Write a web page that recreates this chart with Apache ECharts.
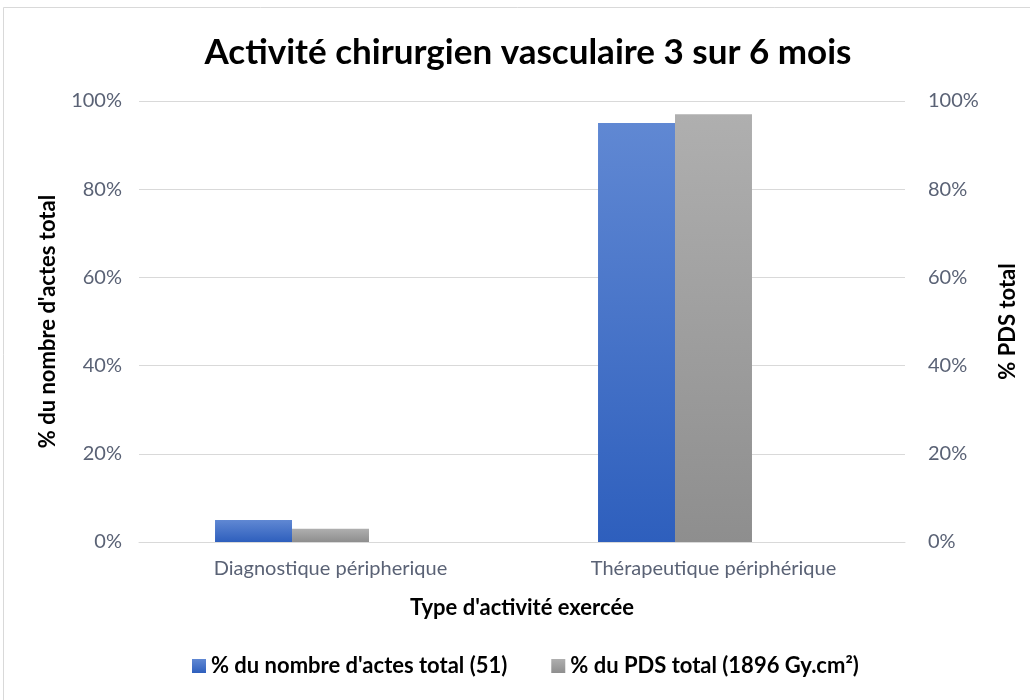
<!DOCTYPE html>
<html>
<head>
<meta charset="utf-8">
<script src="https://cdn.jsdelivr.net/npm/echarts@6/dist/echarts.min.js"></script>
<style>
  html, body { margin: 0; padding: 0; background: #fff; }
  #chart { width: 1030px; height: 700px; }
</style>
</head>
<body>
<div id="chart"></div>
<script>
// categories and values (percent)
var categories = ['Diagnostique péripherique', 'Thérapeutique périphérique'];
var actesValues = [5, 95];
var pdsValues = [3, 97];
var emptySlot = [null, null]; // Excel leaves an empty third slot in each group
var yTicks = [0, 20, 40, 60, 80, 100];

var font = 'Lato, "Open Sans", sans-serif';
var labelColor = '#5a6275';

var chart = echarts.init(document.getElementById('chart'));
chart.setOption({
  backgroundColor: '#fff',
  animation: false,
  title: {
    text: 'Activité chirurgien vasculaire 3 sur 6 mois',
    left: 523,
    textAlign: 'center',
    top: 30,
    textStyle: { fontFamily: font, fontSize: 35, fontWeight: 'bold', color: '#000' }
  },
  graphic: [{
    type: 'rect',
    shape: { x: 3.5, y: 7.5, width: 1040, height: 700 },
    style: { fill: 'none', stroke: '#d9d9d9', lineWidth: 1 },
    silent: true
  }],
  legend: {
    bottom: 18,
    left: 187,
    icon: 'rect',
    itemWidth: 14,
    itemHeight: 14,
    itemGap: 44,
    data: ["% du nombre d'actes total (51)", '% du PDS total (1896 Gy.cm²)'],
    textStyle: { fontFamily: font, fontSize: 22, fontWeight: 'bold', color: '#000' }
  },
  grid: { left: 139, right: 125, top: 101, bottom: 158 },
  xAxis: {
    type: 'category',
    data: categories,
    name: "Type d'activité exercée",
    nameLocation: 'middle',
    nameGap: 55,
    nameTextStyle: { fontFamily: font, fontSize: 22, fontWeight: 'bold', color: '#000' },
    axisTick: { show: false },
    axisLine: { lineStyle: { color: '#d9d9d9' } },
    axisLabel: { fontFamily: font, fontSize: 20, color: labelColor, margin: 17 }
  },
  yAxis: [{
    type: 'value',
    min: yTicks[0],
    max: yTicks[yTicks.length - 1],
    interval: 20,
    name: "% du nombre d'actes total",
    nameLocation: 'middle',
    nameGap: 80,
    nameTextStyle: { fontFamily: font, fontSize: 22, fontWeight: 'bold', color: '#000' },
    axisLabel: { formatter: '{value}%', fontFamily: font, fontSize: 20, color: labelColor, margin: 17 },
    splitLine: { lineStyle: { color: '#d9d9d9' } },
    axisLine: { show: false },
    axisTick: { show: false }
  }, {
    type: 'value',
    min: yTicks[0],
    max: yTicks[yTicks.length - 1],
    interval: 20,
    name: '% PDS total',
    nameLocation: 'middle',
    nameGap: 92,
    nameRotate: 90,
    nameTextStyle: { fontFamily: font, fontSize: 22, fontWeight: 'bold', color: '#000' },
    axisLabel: { formatter: '{value}%', fontFamily: font, fontSize: 20, color: labelColor, margin: 23 },
    splitLine: { show: false },
    axisLine: { show: false },
    axisTick: { show: false }
  }],
  series: [{
    name: "% du nombre d'actes total (51)",
    type: 'bar',
    yAxisIndex: 0,
    data: actesValues,
    barGap: '0%',
    barCategoryGap: '39.7%',
    itemStyle: {
      color: new echarts.graphic.LinearGradient(0, 0, 0, 1, [
        { offset: 0, color: '#6088d3' },
        { offset: 1, color: '#2e5fbd' }
      ])
    }
  }, {
    name: '% du PDS total (1896 Gy.cm²)',
    type: 'bar',
    yAxisIndex: 1,
    data: pdsValues,
    barGap: '0%',
    barCategoryGap: '39.7%',
    itemStyle: {
      color: new echarts.graphic.LinearGradient(0, 0, 0, 1, [
        { offset: 0, color: '#afafaf' },
        { offset: 1, color: '#8e8e8e' }
      ])
    }
  }, {
    name: 'vide',
    type: 'bar',
    yAxisIndex: 1,
    data: emptySlot,
    barGap: '0%',
    barCategoryGap: '39.7%'
  }]
});
</script>
</body>
</html>
